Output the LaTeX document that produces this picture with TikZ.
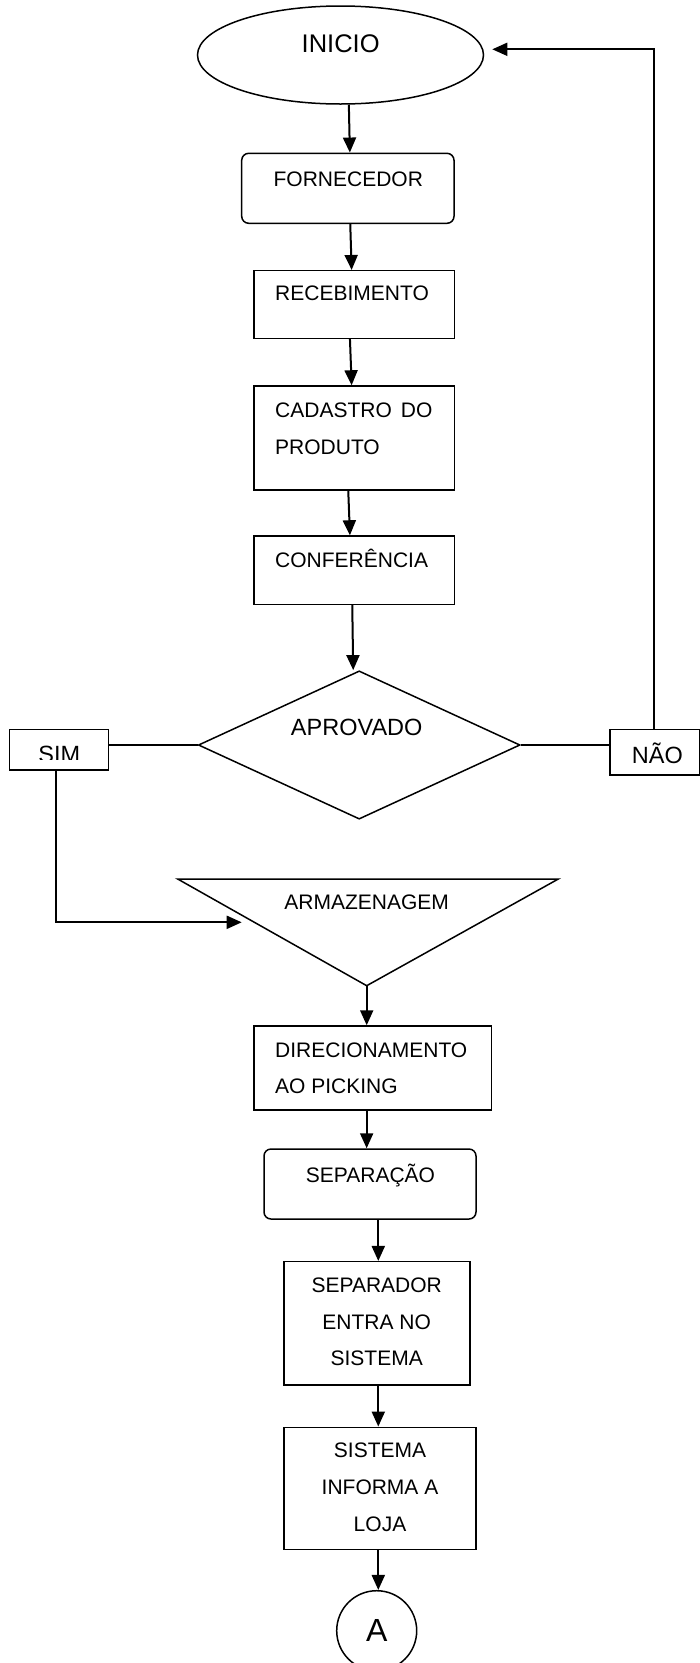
\documentclass[tikz,border=0pt]{standalone}
\usepackage{fontspec}
\setmainfont{Liberation Sans}
\usetikzlibrary{arrows.meta,shapes.geometric}
\tikzset{
  box/.style={draw, line width=1.5pt, rectangle, inner sep=0pt},
  rbox/.style={box, rounded corners=7pt},
  flow/.style={line width=2pt, -{Triangle[length=15pt,width=13pt]}},
  link/.style={line width=1.5pt, line join=miter},
  txt/.style={inner sep=0pt, anchor=base, font=\fontsize{21}{25}\selectfont},
  txtl/.style={txt, anchor=base west},
  bigtxt/.style={txt, font=\fontsize{23.5}{28}\selectfont},
}
\begin{document}
\begin{tikzpicture}[x=1pt, y=-1pt]
\useasboundingbox (0,0) rectangle (699,1663);
\fill[white] (0,0) rectangle (699,1663);

% shapes
\node[draw, line width=1.5pt, ellipse, inner sep=0pt, minimum width=286pt, minimum height=98pt] (ini) at (340.5,55) {};
\node[rbox, minimum width=212.3pt, minimum height=70pt] (forn) at (347.85,188.3) {};
\node[box, minimum width=200.3pt, minimum height=67.6pt] (rec) at (354.15,304.5) {};
\node[box, minimum width=200.3pt, minimum height=104pt] (cad) at (354.15,438) {};
\node[box, minimum width=200.3pt, minimum height=68.3pt] (conf) at (354.15,570.15) {};
\node[draw, line width=1.5pt, diamond, inner sep=0pt, minimum width=321.7pt, minimum height=148.3pt] (dia) at (359.2,745) {};
\node[box, minimum width=99pt, minimum height=40.7pt] (sim) at (58.8,749.65) {};
\node[box, minimum width=90pt, minimum height=45.7pt] (nao) at (655,752.15) {};
\coordinate (ta) at (177.7,879);
\coordinate (tb) at (558.3,879);
\coordinate (tc) at (366.7,985.7);
\draw[link] (ta) -- (tb) -- (tc) -- cycle;
\node[box, minimum width=237.7pt, minimum height=84pt] (dir) at (372.85,1068) {};
\node[rbox, minimum width=212pt, minimum height=70pt] (sep) at (370,1184) {};
\node[box, minimum width=186pt, minimum height=123.3pt] (sepd) at (377,1323.35) {};
\node[box, minimum width=192pt, minimum height=122pt] (sis) at (380,1488.3) {};
\node[draw, line width=1.5pt, circle, inner sep=0pt, minimum size=80pt] (circ) at (376.7,1630.7) {};

% texts
\node[txt, font=\fontsize{25.5}{30}\selectfont] (t-ini) at (340.7,52.4) {INICIO};
\node[txt] (t-forn) at (348.3,186.5) {FORNECEDOR};
\node[txtl] (t-rec) at (275,300.8) {RECEBIMENTO};
\node[txtl] (t-cad1) at (275,417.5) {CADASTRO\hspace{9pt}DO};
\node[txtl] (t-cad2) at (275,454.2) {PRODUTO};
\node[txtl] (t-conf) at (275,567.5) {CONFERÊNCIA};
\node[bigtxt] (t-dia) at (356.7,735.1) {APROVADO};
\begin{scope}
  \clip (0,729) rectangle (120,759.3);
  \node[bigtxt] (t-sim) at (59.3,762.8) {SIM};
\end{scope}
\node[bigtxt, anchor=base west] (t-nao) at (631.7,763.4) {NÃO};
\node[txt] (t-arm) at (366.7,909.2) {ARMAZENAGEM};
\node[txtl] (t-dir1) at (275,1057.5) {DIRECIONAMENTO};
\node[txtl] (t-dir2) at (275,1093.5) {AO PICKING};
\node[txt] (t-sep) at (370.5,1182.5) {SEPARAÇÃO};
\node[txt] (t-sepd1) at (376.7,1292.5) {SEPARADOR};
\node[txt] (t-sepd2) at (376.7,1329.2) {ENTRA NO};
\node[txt] (t-sepd3) at (376.7,1365.8) {SISTEMA};
\node[txt] (t-sis1) at (380,1457.5) {SISTEMA};
\node[txt] (t-sis2) at (380,1494.8) {INFORMA A};
\node[txt] (t-sis3) at (380,1531.5) {LOJA};
\node[txt, font=\fontsize{32}{36}\selectfont] (t-a) at (376.7,1641.5) {A};

% connectors
\draw[flow] ([xshift=1pt]forn.north |- ini.south) -- ([xshift=2pt]forn.north);
\draw[flow] ([xshift=2.4pt]forn.south) -- ([xshift=-2.5pt]rec.north);
\draw[flow] ([xshift=-4.2pt]rec.south) -- ([xshift=-2.5pt]cad.north);
\draw[flow] ([xshift=-5.9pt]cad.south) -- ([xshift=-4.2pt]conf.north);
\draw[flow] ([xshift=-1.9pt]conf.south) -- ([xshift=-6pt]dia.north);
\draw[link] (dia.west) -- (dia.west -| sim.east);
\draw[link] (dia.east) -- (dia.east -| nao.west);
\coordinate (loopend) at (492.3,49.3);
\draw[flow, line width=1.7pt] ([xshift=-1pt]nao.north) |- (loopend);
\coordinate (simend) at (241.7,922.3);
\draw[flow] ([xshift=-2.8pt]sim.south) |- (simend);
\draw[flow] (tc) -- (tc |- dir.north);
\draw[flow] ([xshift=-6.2pt]dir.south) -- ([xshift=-6.2pt]dir.south |- sep.north);
\draw[flow] ([xshift=1.3pt]sepd.north |- sep.south) -- ([xshift=1.3pt]sepd.north);
\draw[flow] ([xshift=1.3pt]sepd.south) -- ([xshift=1.3pt]sepd.south |- sis.north);
\draw[flow] ([xshift=1.6pt]circ.north |- sis.south) -- ([xshift=1.6pt]circ.north);
\end{tikzpicture}
\end{document}
